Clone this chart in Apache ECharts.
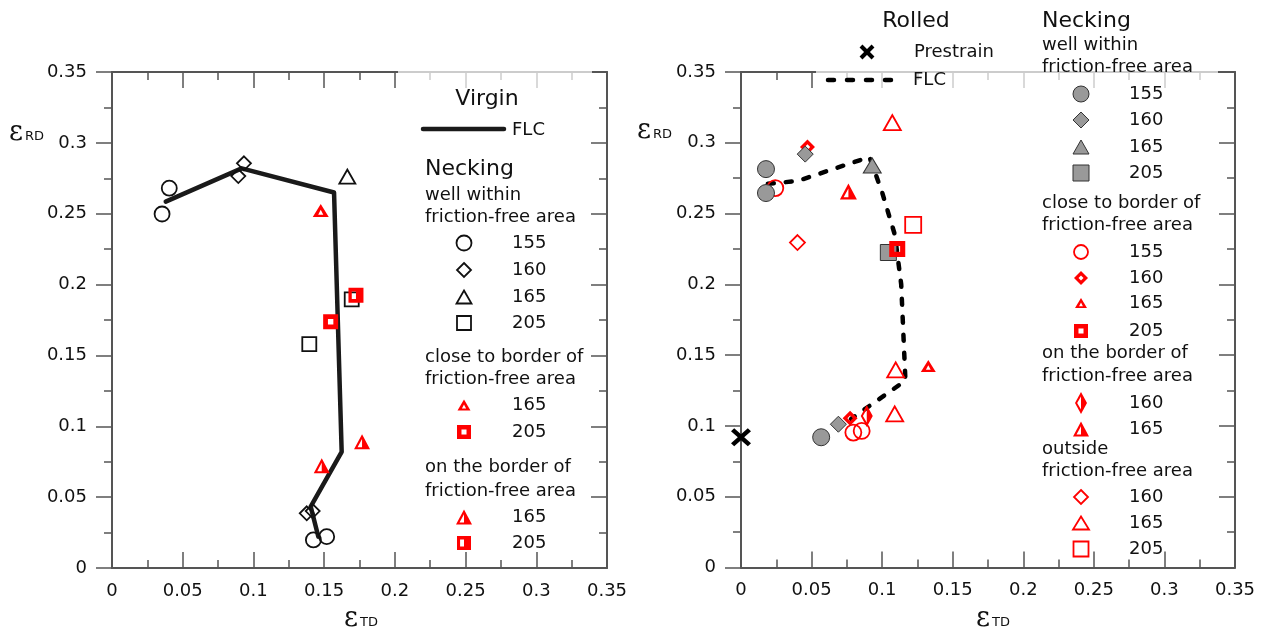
<!DOCTYPE html>
<html><head><meta charset="utf-8">
<script src="https://cdn.jsdelivr.net/npm/echarts@6/dist/echarts.min.js"></script>
<style>html,body{margin:0;padding:0;background:#fff}#c{width:1266px;height:640px}</style>
</head><body><div id="c"></div>
<script>
// ---------------- data ----------------
const xTickLabels = ['0','0.05','0.1','0.15','0.2','0.25','0.3','0.35'];
const yTickLabels = ['0','0.05','0.1','0.15','0.2','0.25','0.3','0.35'];

// Left panel: Virgin
const virginFLC = [[0.038,0.2585],[0.0917,0.282],[0.157,0.265],[0.1624,0.082],[0.1405,0.0433],[0.1459,0.0221]];
const virginWell155 = [[0.0405,0.268],[0.0354,0.2498],[0.1424,0.0198],[0.1518,0.0221]];
const virginWell160 = [[0.0933,0.2856],[0.0893,0.2766],[0.1377,0.0386],[0.1419,0.0402]];
const virginWell165 = [[0.1664,0.2762]];
const virginWell205 = [[0.1695,0.1896],[0.1395,0.158]];
const virginClose165 = [[0.1476,0.2522]];
const virginClose205 = [[0.1546,0.1738]];
const virginBorder165 = [[0.1768,0.0891],[0.1483,0.0722]];
const virginBorder205 = [[0.1725,0.1925]];

// Right panel: Rolled
const rolledFLC = [[0.019,0.271],[0.04,0.273],[0.091,0.29],[0.1,0.265],[0.109,0.235],[0.1135,0.2],[0.1165,0.132],[0.078,0.105]];
const prestrain = [[0,0.092]];
const rolledWell155 = [[0.0177,0.2814],[0.0177,0.2645],[0.0568,0.092]];
const rolledWell160 = [[0.0455,0.292],[0.069,0.1012]];
const rolledWell165 = [[0.093,0.284]];
const rolledWell205 = [[0.1044,0.2225]];
const rolledClose155 = [[0.0243,0.268],[0.0796,0.0953],[0.0855,0.0965]];
const rolledClose160 = [[0.0471,0.297],[0.0773,0.1054]];
const rolledClose165 = [[0.1327,0.1424]];
const rolledClose205 = [[0.1107,0.225]];
const rolledBorder160 = [[0.0891,0.1071]];
const rolledBorder165 = [[0.0761,0.2656]];
const rolledOut160 = [[0.04,0.2295]];
const rolledOut165 = [[0.1072,0.3143],[0.1096,0.1396],[0.1089,0.1085]];
const rolledOut205 = [[0.122,0.242]];

// ---------------- styles ----------------
const FONT = 'DejaVu Sans';
const AX = '#555';
const RED = '#ff0000';
const BLK = '#111';
const GRAY = '#999999';
const GRAYB = '#333333';

// shapes in unit boxes: outer polygon + hole polygon
const SH = {
  triThick: {w:100,h:90, outer:[[50,0],[100,90],[0,90]], hole:[[50,40],[34,74],[66,74]]},
  triHalf:  {w:100,h:90, outer:[[50,0],[100,90],[0,90]], hole:[[50,28],[22,78],[50,78]]},
  sqThick:  {w:100,h:100, outer:[[0,0],[100,0],[100,100],[0,100]], hole:[[32,32],[32,68],[68,68],[68,32]]},
  sqHalf:   {w:100,h:100, outer:[[0,0],[100,0],[100,100],[0,100]], hole:[[22,25],[22,75],[50,75],[50,25]]},
  diaThick: {w:100,h:100, outer:[[50,0],[100,50],[50,100],[0,50]], hole:[[50,32],[32,50],[50,68],[68,50]]},
  diaHalf:  {w:100,h:100, outer:[[50,0],[100,50],[50,100],[0,50]], hole:[[50,20],[18,50],[50,80]]}
};
function pathOf(s){
  const seg = p => 'M' + p.map(q => q[0] + ',' + q[1]).join(' L') + ' Z';
  return 'path://' + seg(s.outer) + ' ' + seg(s.hole);
}
const P_X = 'path://M0,16 L16,0 L50,34 L84,0 L100,16 L66,50 L100,84 L84,100 L50,66 L16,100 L0,84 L34,50 Z';

const openStyle = c => ({color:'rgba(255,255,255,0)', borderColor:c, borderWidth:1.8, opacity:1});
const grayStyle = {color:GRAY, borderColor:GRAYB, borderWidth:1, opacity:1};
const redFill = {color:RED, borderWidth:0, opacity:1};

function sc(data, gi, symbol, size, itemStyle, z){
  return {type:'scatter', data, xAxisIndex:gi*2, yAxisIndex:gi*2, symbol, symbolSize:size,
    itemStyle, z:z||3, clip:false, silent:true, animation:false};
}

const series = [
  {type:'line', data:virginFLC, xAxisIndex:0, yAxisIndex:0, symbol:'none', showSymbol:false, silent:true,
   lineStyle:{color:'#1a1a1a', width:4.5, cap:'round', join:'round'}, z:2, animation:false},
  sc(virginWell155, 0, 'circle', 15, openStyle(BLK)),
  sc(virginWell160, 0, 'diamond', 14, openStyle(BLK)),
  sc(virginWell165, 0, 'triangle', [16,14], openStyle(BLK)),
  sc(virginWell205, 0, 'rect', 14, openStyle(BLK)),
  sc(virginClose165, 0, pathOf(SH.triThick), [16,13], redFill, 4),
  sc(virginClose205, 0, pathOf(SH.sqThick), 15, redFill, 4),
  sc(virginBorder165, 0, pathOf(SH.triHalf), [16,15], redFill, 4),
  sc(virginBorder205, 0, pathOf(SH.sqHalf), 15, redFill, 4),

  {type:'line', data:rolledFLC, xAxisIndex:2, yAxisIndex:2, symbol:'none', showSymbol:false, silent:true,
   lineStyle:{color:'#000', width:4.5, type:[6,12], cap:'round', join:'round'}, z:2, animation:false},
  sc(rolledClose155, 1, 'circle', 16, openStyle(RED), 3),
  sc(rolledClose160, 1, pathOf(SH.diaThick), 15, redFill, 3),
  sc(rolledWell155, 1, 'circle', 17, grayStyle, 4),
  sc(rolledWell160, 1, 'diamond', 16, grayStyle, 4),
  sc(rolledWell165, 1, 'triangle', [18,15], grayStyle, 4),
  sc(rolledWell205, 1, 'rect', 16, grayStyle, 4),
  sc(rolledClose165, 1, pathOf(SH.triThick), [15,12], redFill, 5),
  sc(rolledClose205, 1, pathOf(SH.sqThick), 16, redFill, 5),
  sc(rolledBorder160, 1, pathOf(SH.diaHalf), [12,22], redFill, 5),
  sc(rolledBorder165, 1, pathOf(SH.triHalf), [17,16], redFill, 5),
  sc(rolledOut160, 1, 'diamond', 15, openStyle(RED), 5),
  sc(rolledOut165, 1, 'triangle', [17,15], openStyle(RED), 5),
  sc(rolledOut205, 1, 'rect', 16, openStyle(RED), 5),
  sc(prestrain, 1, P_X, [20,18], {color:'#000', opacity:1}, 6)
];

// ---------------- axes ----------------
const fmtX = v => xTickLabels[Math.round(v/0.05)];
const fmtY = v => yTickLabels[Math.round(v/0.05)];
function xAx(gi, pos){
  return {gridIndex:gi, type:'value', min:0, max:0.35, interval:0.05, position:pos,
    axisLine:{show:true, onZero:false, lineStyle:{color:AX, width:2}},
    axisTick:{show:true, inside:true, length:16, lineStyle:{color:AX, width:1.5}},
    minorTick:{show:true, splitNumber:2, length:8, lineStyle:{color:AX, width:1.5}},
    axisLabel:{show:pos==='bottom', margin:14, fontSize:18, fontFamily:FONT, color:BLK, formatter:fmtX},
    splitLine:{show:false}, minorSplitLine:{show:false}};
}
function yAx(gi, pos){
  const left = pos==='left';
  return {gridIndex:gi, type:'value', min:0, max:0.35, interval:0.05, position:pos,
    axisLine:{show:true, onZero:false, lineStyle:{color:AX, width:2}},
    axisTick:{show:true, inside:!left, length:16, lineStyle:{color:AX, width:1.5}},
    minorTick:{show:true, splitNumber:2, length:8, lineStyle:{color:AX, width:1.5}},
    axisLabel:{show:left, margin:25, fontSize:18, fontFamily:FONT, color:BLK, formatter:fmtY},
    splitLine:{show:false}, minorSplitLine:{show:false}};
}

// ---------------- legend graphics ----------------
const G = [];
function T(x, y, s, size, align){
  G.push({type:'text', x, y, z:100, silent:true,
    style:{text:s, fontSize:size||18, fontFamily:FONT, fill:BLK,
      align:align||'left', textAlign:align||'left', verticalAlign:'middle', textVerticalAlign:'middle'}});
}
function poly(points, style){ G.push({type:'polygon', shape:{points}, style, z:100, silent:true}); }
const tri = (cx,cy,w,h) => [[cx,cy-h/2],[cx+w/2,cy+h/2],[cx-w/2,cy+h/2]];
const dia = (cx,cy,w,h) => [[cx,cy-h/2],[cx+w/2,cy],[cx,cy+h/2],[cx-w/2,cy]];
const sqr = (cx,cy,w,h) => [[cx-w/2,cy-h/2],[cx+w/2,cy-h/2],[cx+w/2,cy+h/2],[cx-w/2,cy+h/2]];
function shapeSym(s, cx, cy, w, h, color){
  const m = p => p.map(q => [cx - w/2 + q[0]/s.w*w, cy - h/2 + q[1]/s.h*h]);
  poly(m(s.outer), {fill:color});
  poly(m(s.hole), {fill:'#fff'});
}
function circ(cx, cy, r, style){ G.push({type:'circle', shape:{cx,cy,r}, style, z:100, silent:true}); }
const openLeg = c => ({fill:'#fff', stroke:c, lineWidth:1.8});
const grayLeg = {fill:GRAY, stroke:GRAYB, lineWidth:1};

// lighten top frame under legends
G.push({type:'rect', shape:{x:398, y:64, width:194, height:30}, style:{fill:'rgba(255,255,255,0.7)'}, z:50, silent:true});
G.push({type:'rect', shape:{x:816, y:64, width:402, height:30}, style:{fill:'rgba(255,255,255,0.7)'}, z:50, silent:true});

// Left legend
T(487, 99, 'Virgin', 22, 'center');
G.push({type:'line', shape:{x1:423, y1:129, x2:504, y2:129}, style:{stroke:'#1a1a1a', lineWidth:4.5, lineCap:'round'}, z:100, silent:true});
T(512, 130, 'FLC');
T(425, 169, 'Necking', 22);
T(425, 195, 'well within');
T(425, 217, 'friction-free area');
const LX = 464, LN = 512;
circ(LX, 243, 7.5, openLeg(BLK)); T(LN, 243, '155');
poly(dia(LX, 270, 14, 14), openLeg(BLK)); T(LN, 270, '160');
poly(tri(LX, 297, 15, 13), openLeg(BLK)); T(LN, 297, '165');
poly(sqr(LX, 323, 14, 14), openLeg(BLK)); T(LN, 323, '205');
T(425, 357, 'close to border of');
T(425, 379, 'friction-free area');
shapeSym(SH.triThick, LX, 405, 13, 11, RED); T(LN, 405, '165');
shapeSym(SH.sqThick, LX, 432, 14, 14, RED); T(LN, 432, '205');
T(425, 467, 'on the border of');
T(425, 491, 'friction-free area');
shapeSym(SH.triHalf, LX, 517, 16, 15, RED); T(LN, 517, '165');
shapeSym(SH.sqHalf, LX, 543, 14, 14, RED); T(LN, 543, '205');

// Right legend
T(916, 21, 'Rolled', 22, 'center');
G.push({type:'line', shape:{x1:861, y1:46, x2:873, y2:58}, style:{stroke:'#000', lineWidth:4}, z:100, silent:true});
G.push({type:'line', shape:{x1:873, y1:46, x2:861, y2:58}, style:{stroke:'#000', lineWidth:4}, z:100, silent:true});
T(914, 52, 'Prestrain');
G.push({type:'line', shape:{x1:828, y1:80, x2:898, y2:80}, style:{stroke:'#000', lineWidth:4.5, lineCap:'round', lineDash:[6,13]}, z:100, silent:true});
T(913, 80, 'FLC');
T(1042, 21, 'Necking', 22);
T(1042, 45, 'well within');
T(1042, 67, 'friction-free area');
const RX = 1081, RN = 1129;
circ(RX, 94, 8, grayLeg); T(RN, 94, '155');
poly(dia(RX, 120, 16, 16), grayLeg); T(RN, 120, '160');
poly(tri(RX, 147, 16, 14), grayLeg); T(RN, 147, '165');
poly(sqr(RX, 173, 16, 16), grayLeg); T(RN, 173, '205');
T(1042, 203, 'close to border of');
T(1042, 225, 'friction-free area');
circ(RX, 252, 7, openLeg(RED)); T(RN, 252, '155');
shapeSym(SH.diaThick, RX, 278, 14, 14, RED); T(RN, 278, '160');
shapeSym(SH.triThick, RX, 303, 12, 10, RED); T(RN, 303, '165');
shapeSym(SH.sqThick, RX, 331, 14, 14, RED); T(RN, 331, '205');
T(1042, 353, 'on the border of');
T(1042, 376, 'friction-free area');
shapeSym(SH.diaHalf, RX, 403, 12, 22, RED); T(RN, 403, '160');
shapeSym(SH.triHalf, RX, 429, 16, 15, RED); T(RN, 429, '165');
T(1042, 449, 'outside');
T(1042, 471, 'friction-free area');
poly(dia(RX, 497, 14, 14), openLeg(RED)); T(RN, 497, '160');
poly(tri(RX, 523, 16, 13), openLeg(RED)); T(RN, 523, '165');
poly(sqr(RX, 549, 15, 15), openLeg(RED)); T(RN, 549, '205');

// axis titles (epsilon with subscript)
function epsTitle(ex, ey, sub){
  G.push({type:'text', x:ex, y:ey, z:100, silent:true,
    style:{text:'ε', fontSize:27, fontFamily:'DejaVu Serif', fill:BLK, align:'left', textAlign:'left', verticalAlign:'middle', textVerticalAlign:'middle'}});
  G.push({type:'text', x:ex+16, y:ey+4, z:100, silent:true,
    style:{text:sub, fontSize:13, fontFamily:FONT, fill:BLK, align:'left', textAlign:'left', verticalAlign:'middle', textVerticalAlign:'middle'}});
}
epsTitle(9, 133, 'RD');
epsTitle(637, 131, 'RD');
epsTitle(344, 619, 'TD');
epsTitle(976, 619, 'TD');

const option = {
  animation:false,
  backgroundColor:'#fff',
  grid:[{left:112, top:72, width:495, height:496}, {left:741, top:72, width:494, height:495.5}],
  xAxis:[xAx(0,'bottom'), xAx(0,'top'), xAx(1,'bottom'), xAx(1,'top')],
  yAxis:[yAx(0,'left'), yAx(0,'right'), yAx(1,'left'), yAx(1,'right')],
  series,
  graphic:{elements:G}
};
const chart = echarts.init(document.getElementById('c'));
chart.setOption(option);
</script>
</body></html>
